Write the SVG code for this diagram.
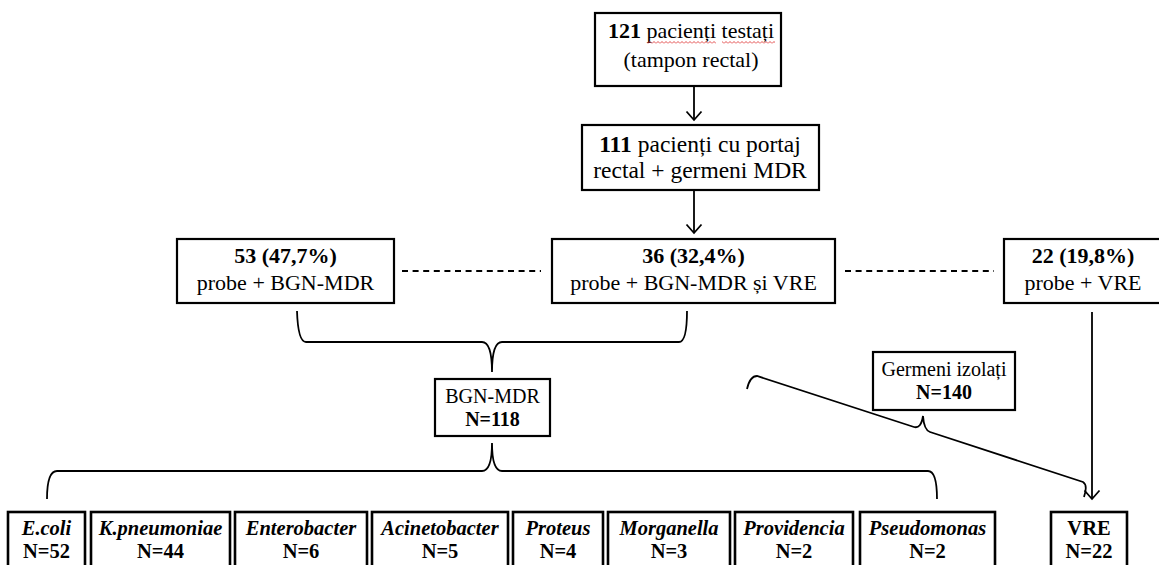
<svg xmlns="http://www.w3.org/2000/svg" width="1159" height="565" viewBox="0 0 1159 565">
<defs>
<style>
.box{fill:#fff;stroke:#000;stroke-width:2.2}
.bx2{fill:#fff;stroke:#000;stroke-width:2.6}
.t{font-family:"Liberation Serif","Times New Roman",serif;fill:#000;text-anchor:middle}
.t22{font-size:22px}
.t20{font-size:20px}
.tb{font-size:20.5px;font-weight:bold}
.b{font-weight:bold}
.bi{font-weight:bold;font-style:italic;font-size:20.5px}
.ln{fill:none;stroke:#000;stroke-width:1.8}
.dash{fill:none;stroke:#000;stroke-width:2;stroke-dasharray:6 4.6}
</style>
<marker id="arr" viewBox="0 0 20 20" refX="10" refY="10" markerWidth="20" markerHeight="20" markerUnits="userSpaceOnUse" orient="auto">
<path d="M1.5,2.5 L10,10 L1.5,17.5" fill="none" stroke="#000" stroke-width="1.8"/>
</marker>
<pattern id="sq" x="0" y="41" width="4" height="3" patternUnits="userSpaceOnUse">
<path d="M0,2.5 L2,0.5 L4,2.5" stroke="#e03a3a" fill="none" stroke-width="0.9"/>
</pattern>
</defs>

<g id="connectors">
<line class="ln" x1="694" y1="86" x2="694" y2="120" marker-end="url(#arr)"/>
<line class="ln" x1="694" y1="190" x2="694" y2="233" marker-end="url(#arr)"/>
<line class="dash" x1="402" y1="271" x2="541" y2="271"/>
<line class="dash" x1="845" y1="271" x2="994" y2="271"/>
<path class="ln" d="M297,311 Q298,342 306,342 L482,342 Q492,342 492,372 Q492,342 502,342 L679,342 Q687,342 687,311"/>
<path class="ln" d="M47,499 Q47,471 57,471 L482,471 Q492,471 492,443 Q492,471 502,471 L928,471 Q937,471 937,499"/>
<path class="ln" d="M747,389 Q750,376 757,376 L914,427 Q921,429 923,416 Q924,430 930,432 L1083,482 Q1088,485 1084,497"/>
<line class="ln" x1="1092" y1="312" x2="1092" y2="499" marker-end="url(#arr)"/>
</g>

<g id="n121">
<rect class="box" x="595" y="13" width="186" height="73"/>
<text class="t t22" x="691" y="38"><tspan class="b">121</tspan> pacienți testați</text>
<text class="t t22" x="691" y="67">(tampon rectal)</text>
<rect x="647" y="41" width="69" height="3" fill="url(#sq)"/>
<rect x="722" y="41" width="53" height="3" fill="url(#sq)"/>
</g>

<g id="n111">
<rect class="box" x="582" y="125" width="237" height="65"/>
<text class="t t22" x="700" y="152" style="font-size:23.5px"><tspan class="b">111</tspan> pacienți cu portaj</text>
<text class="t t22" x="700" y="178" style="font-size:23.5px">rectal + germeni MDR</text>
</g>

<g id="n53">
<rect class="box" x="177" y="239" width="217" height="64"/>
<text class="t t22 b" x="285.5" y="263">53 (47,7%)</text>
<text class="t t22" x="285.5" y="290">probe + BGN-MDR</text>
</g>

<g id="n36">
<rect class="box" x="552" y="239" width="283" height="64"/>
<text class="t t22 b" x="693.5" y="263">36 (32,4%)</text>
<text class="t t22" x="693.5" y="290">probe + BGN-MDR și VRE</text>
</g>

<g id="n22">
<rect class="box" x="1004" y="239" width="160" height="64"/>
<text class="t t22 b" x="1083" y="263">22 (19,8%)</text>
<text class="t t22" x="1083" y="290">probe + VRE</text>
</g>

<g id="bgn">
<rect class="box" x="435" y="379" width="115" height="57"/>
<text class="t t20" x="492.5" y="403">BGN-MDR</text>
<text class="t t20 b" x="492.5" y="426">N=118</text>
</g>

<g id="germeni">
<rect class="box" x="873" y="352" width="142" height="58"/>
<text class="t t20" x="944" y="376">Germeni izolați</text>
<text class="t t20 b" x="944" y="399">N=140</text>
</g>

<g id="ecoli">
<rect class="bx2" x="8" y="512" width="77" height="62"/>
<text class="t bi" x="46.5" y="535">E.coli</text>
<text class="t tb" x="46.5" y="558">N=52</text>
</g>
<g id="kpn">
<rect class="bx2" x="91" y="512" width="139" height="62"/>
<text class="t bi" x="160.5" y="535">K.pneumoniae</text>
<text class="t tb" x="160.5" y="558">N=44</text>
</g>
<g id="entero">
<rect class="bx2" x="235" y="512" width="132" height="62"/>
<text class="t bi" x="301" y="535">Enterobacter</text>
<text class="t tb" x="301" y="558">N=6</text>
</g>
<g id="acineto">
<rect class="bx2" x="372" y="512" width="136" height="62"/>
<text class="t bi" x="440" y="535">Acinetobacter</text>
<text class="t tb" x="440" y="558">N=5</text>
</g>
<g id="proteus">
<rect class="bx2" x="513" y="512" width="90" height="62"/>
<text class="t bi" x="558" y="535">Proteus</text>
<text class="t tb" x="558" y="558">N=4</text>
</g>
<g id="morganella">
<rect class="bx2" x="608" y="512" width="122" height="62"/>
<text class="t bi" x="669" y="535">Morganella</text>
<text class="t tb" x="669" y="558">N=3</text>
</g>
<g id="providencia">
<rect class="bx2" x="735" y="512" width="118" height="62"/>
<text class="t bi" x="794" y="535">Providencia</text>
<text class="t tb" x="794" y="558">N=2</text>
</g>
<g id="pseudomonas">
<rect class="bx2" x="860" y="512" width="135" height="62"/>
<text class="t bi" x="927.5" y="535">Pseudomonas</text>
<text class="t tb" x="927.5" y="558">N=2</text>
</g>
<g id="vre">
<rect class="bx2" x="1051" y="512" width="76" height="62"/>
<text class="t tb" x="1089" y="535">VRE</text>
<text class="t tb" x="1089" y="558">N=22</text>
</g>
</svg>
